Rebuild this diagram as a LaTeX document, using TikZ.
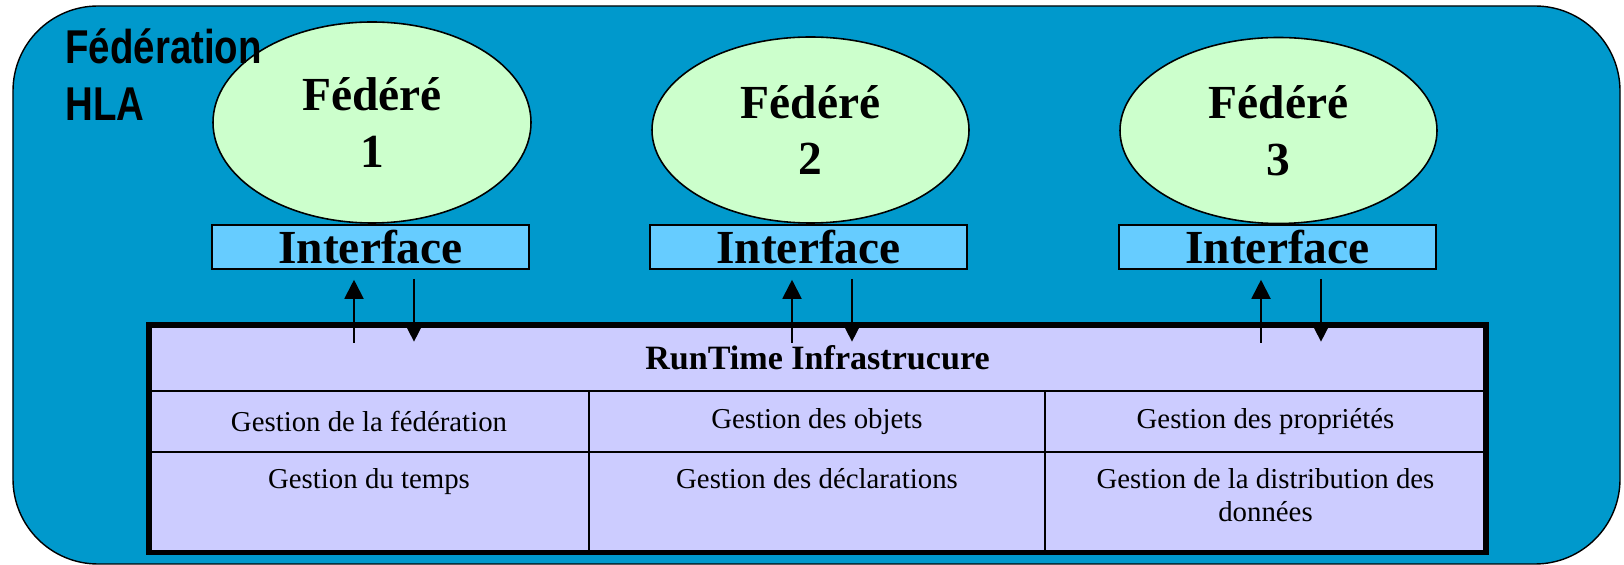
\documentclass[tikz,border=0pt]{standalone}
\usepackage{fontspec}
\setmainfont{Liberation Serif}
\newfontfamily\narrowsans[FakeStretch=0.81]{Liberation Sans}
\usetikzlibrary{arrows.meta,shapes.geometric}
\definecolor{ocean}{HTML}{0099CC}
\definecolor{mint}{HTML}{CCFFCC}
\definecolor{sky}{HTML}{66CCFF}
\definecolor{lilac}{HTML}{CCCCFF}

\begin{document}
\begin{tikzpicture}[>={Triangle[length=3.8mm,width=3.8mm]},
  federe/.style={ellipse,draw,fill=mint,line width=0.9pt,inner sep=0pt,align=center,
    font=\fontsize{27}{32.3}\selectfont\bfseries},
  iface/.style={rectangle,draw,fill=sky,line width=0.9pt,minimum width=6.34cm,
    minimum height=0.88cm,inner sep=0pt,font=\fontsize{27}{32}\selectfont\bfseries},
  cell/.style={inner sep=0pt,align=center,font=\fontsize{16.4}{18.7}\selectfont},
  link/.style={->,line width=1.1pt}]
  \useasboundingbox (0,0) rectangle (32.48,-11.3);
  \draw[fill=ocean,line width=0.8pt,rounded corners=1.7cm] (0.26,-0.12) rectangle (32.4,-11.28);

  % the three federates
  \node[federe,minimum width=6.36cm,minimum height=4.02cm] (fed1) at (7.44,-2.45) {Fédéré\\1};
  \node[federe,minimum width=6.34cm,minimum height=3.72cm] (fed2) at (16.21,-2.6) {Fédéré\\2};
  \node[federe,minimum width=6.34cm,minimum height=3.72cm] (fed3) at (25.57,-2.61) {Fédéré\\3};
  \node[font=\narrowsans\fontsize{27}{32.9}\selectfont\bfseries,anchor=north west,
    align=left,inner sep=0pt] (title) at (1.3,-0.56) {Fédération\\HLA};

  \node[iface] (if1) at (7.41,-4.94) {Interface};
  \node[iface] (if2) at (16.17,-4.94) {Interface};
  \node[iface] (if3) at (25.55,-4.94) {Interface};

  % RTI table
  \node[fill=lilac,minimum width=26.74cm,minimum height=1.32cm,inner sep=0pt,
    font=\fontsize{19.4}{23}\selectfont\bfseries] (rti) at (16.35,-7.16) {RunTime Infrastrucure};
  \fill[lilac] (2.98,-7.82) rectangle (29.72,-11.05);
  \draw[line width=1.5pt] (2.98,-7.82) -- (29.72,-7.82) (2.98,-9.04) -- (29.72,-9.04)
    (11.78,-7.82) -- (11.78,-11.05) (20.9,-7.82) -- (20.9,-11.05);
  \draw[line width=3.4pt] (2.98,-6.5) rectangle (29.72,-11.05);
  \node[cell] (c11) at (7.38,-8.43) {Gestion de la fédération};
  \node[cell] (c12) at (16.34,-8.43) {Gestion des objets};
  \node[cell] (c13) at (25.31,-8.43) {Gestion des propriétés};
  \node[cell,anchor=north] (c21) at (7.38,-9.36) {Gestion du temps};
  \node[cell,anchor=north] (c22) at (16.34,-9.36) {Gestion des déclarations};
  \node[cell,anchor=north] (c23) at (25.31,-9.36) {Gestion de la distribution des\\données};

  \foreach \i in {1,2,3}{
    \draw[link] ([xshift=-0.33cm,yshift=-0.36cm]if\i.south |- rti.north)
      -- ([xshift=-0.33cm,yshift=-0.2cm]if\i.south);
    \draw[link] ([xshift=0.87cm,yshift=-0.18cm]if\i.south)
      -- ([xshift=0.87cm,yshift=-0.34cm]if\i.south |- rti.north);
  }
\end{tikzpicture}
\end{document}
